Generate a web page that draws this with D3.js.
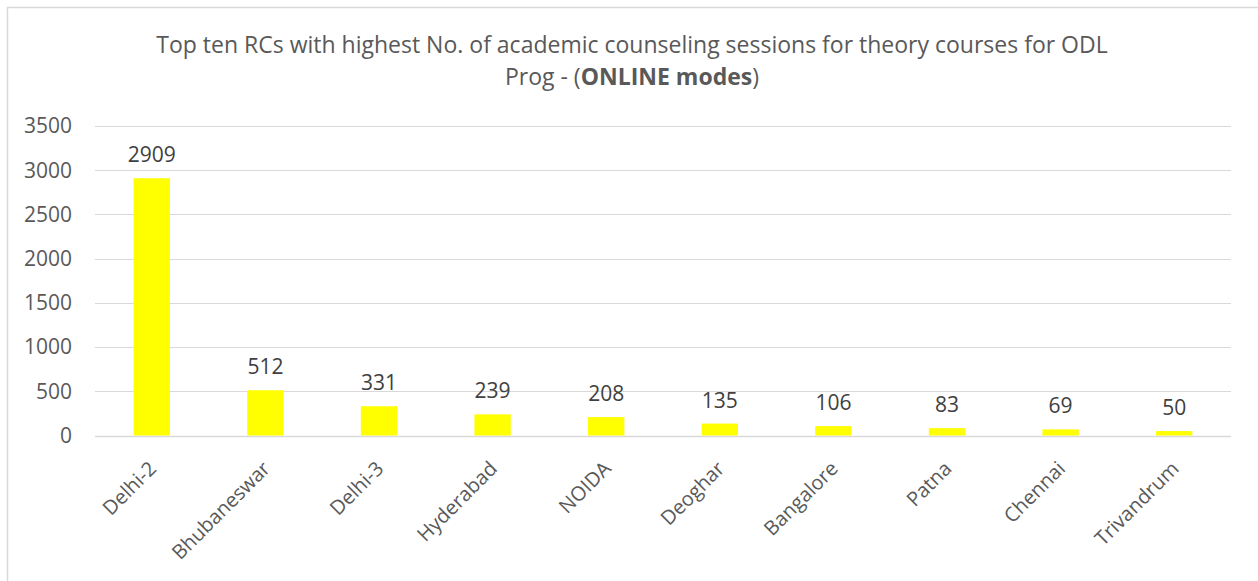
<!DOCTYPE html>
<html>
<head>
<meta charset="utf-8">
<script src="https://cdn.jsdelivr.net/npm/d3@7"></script>
<style>
  body { margin: 0; background: #fff; }
  text { font-family: "Open Sans", sans-serif; fill: #595959; }
</style>
</head>
<body>
<svg id="chart" width="1258" height="581"></svg>
<script>
// Chart data
const centres = ["Delhi-2", "Bhubaneswar", "Delhi-3", "Hyderabad", "NOIDA", "Deoghar", "Bangalore", "Patna", "Chennai", "Trivandrum"];
const sessions = [2909, 512, 331, 239, 208, 135, 106, 83, 69, 50];
const yTicks = [0, 500, 1000, 1500, 2000, 2500, 3000, 3500];

const svg = d3.select("#chart");

// Outer chart frame (runs off the right/bottom edge like the original)
svg.append("rect")
  .attr("x", 7.5).attr("y", 7.5)
  .attr("width", 1300).attr("height", 640)
  .attr("fill", "#fff")
  .attr("stroke", "#d9d9d9")
  .attr("stroke-width", 1.5);

// Plot area
const plot = { left: 95, right: 1231, top: 126, bottom: 435.5 };

const x = d3.scaleBand()
  .domain(centres)
  .range([plot.left, plot.right])
  .paddingInner(0.68)
  .paddingOuter(0.34);

const y = d3.scaleLinear()
  .domain([0, 3500])
  .range([plot.bottom, plot.top]);

// Gridlines
svg.append("g")
  .selectAll("line")
  .data(yTicks)
  .join("line")
  .attr("x1", plot.left)
  .attr("x2", plot.right)
  .attr("y1", (d) => Math.round(y(d)) + 0.5)
  .attr("y2", (d) => Math.round(y(d)) + 0.5)
  .attr("stroke", "#d9d9d9")
  .attr("stroke-width", (d) => (d === 0 ? 1.5 : 1));

// Y tick labels
svg.append("g")
  .selectAll("text")
  .data(yTicks)
  .join("text")
  .attr("x", 72)
  .attr("y", (d) => y(d))
  .attr("dy", "0.35em")
  .attr("text-anchor", "end")
  .style("font-size", "21px")
  .text((d) => d);

// Bars
svg.append("g")
  .selectAll("rect")
  .data(sessions)
  .join("rect")
  .attr("x", (d, i) => x(centres[i]))
  .attr("y", (d) => y(d))
  .attr("width", x.bandwidth())
  .attr("height", (d) => y(0) - y(d))
  .attr("fill", "#ffff00");

// Value labels
svg.append("g")
  .selectAll("text")
  .data(sessions)
  .join("text")
  .attr("x", (d, i) => x(centres[i]) + x.bandwidth() / 2)
  .attr("y", (d) => y(d) - 16)
  .attr("text-anchor", "middle")
  .style("font-size", "21px")
  .style("fill", "#404040")
  .text((d) => d);

// Category labels, rotated
svg.append("g")
  .selectAll("text")
  .data(centres)
  .join("text")
  .attr("transform", (d) => `translate(${x(d) + x.bandwidth() / 2 - 4}, 460) rotate(-45)`)
  .attr("text-anchor", "end")
  .attr("dy", "0.7em")
  .style("font-size", "20px")
  .text((d) => d);

// Title (two lines, as wrapped in the original)
const title = svg.append("g").style("font-size", "23px");
title.append("text")
  .attr("x", 632)
  .attr("y", 53)
  .attr("text-anchor", "middle")
  .text("Top ten RCs with highest No. of academic counseling sessions for theory courses for ODL");
const line2 = title.append("text")
  .attr("x", 632)
  .attr("y", 85)
  .attr("text-anchor", "middle");
line2.append("tspan").text("Prog - (");
line2.append("tspan").style("font-weight", "bold").text("ONLINE modes");
line2.append("tspan").text(")");
</script>
</body>
</html>
